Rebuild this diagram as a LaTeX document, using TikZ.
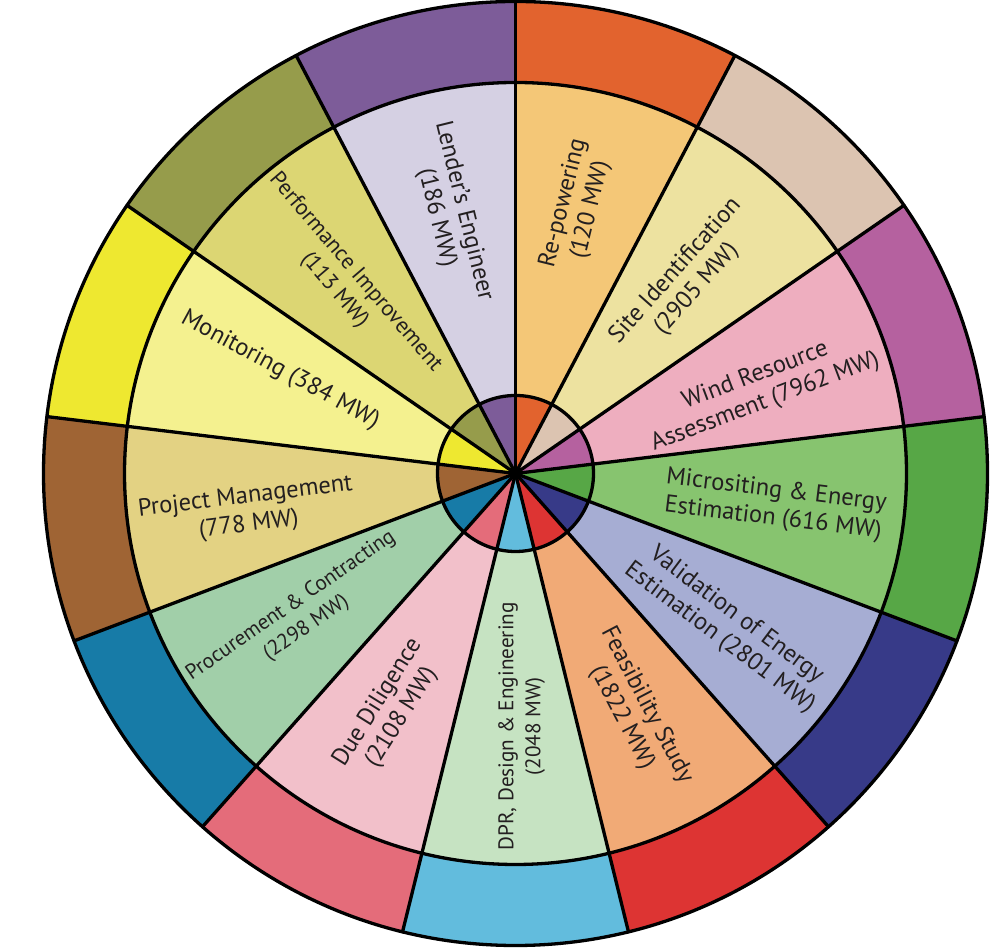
\documentclass[tikz,border=0pt]{standalone}
\usepackage{fontspec}
\setmainfont{PT Sans}
\usetikzlibrary{calc}
\begin{document}
\begin{tikzpicture}[x=1pt,y=1pt,
  lab/.style={text=txt, align=center, inner sep=0pt, font=\fontsize{24.5}{28}\selectfont},
  labm/.style={lab, font=\fontsize{22.4}{27.5}\selectfont},
  labs/.style={lab, font=\fontsize{21.2}{27}\selectfont},
  ring/.style={draw=black, line width=3.3pt}]
\definecolor{txt}{HTML}{231F20}
\useasboundingbox (0,0) rectangle (990,949);
\coordinate (C) at (515.5,475.5);
\foreach \i/\co/\cmid in {0/E2632E/F4C777, 1/DCC4B1/EDE2A0, 2/B5619F/EEAEBF, 3/57A746/87C46F,
  4/373A88/A6ADD3, 5/DD3433/F1AA76, 6/62BCDD/C6E3C2, 7/E46C7A/F2C0CA, 8/177BA7/A1CFA9,
  9/9F6434/E3D283, 10/EEE830/F4F18F, 11/969C4B/DCD673, 12/7D5C99/D5D0E3}{
  \pgfmathsetmacro\aa{90-\i*360/13}
  \pgfmathsetmacro\ab{90-(\i+1)*360/13}
  \definecolor{segout}{HTML}{\co}
  \definecolor{segmid}{HTML}{\cmid}
  \fill[segout] (C) -- ([shift={(\aa:472)}]C) arc[start angle=\aa, end angle=\ab, radius=472] -- cycle;
  \fill[segmid] (C) -- ([shift={(\aa:391)}]C) arc[start angle=\aa, end angle=\ab, radius=391] -- cycle;
  \fill[segout] (C) -- ([shift={(\aa:78)}]C) arc[start angle=\aa, end angle=\ab, radius=78] -- cycle;
}
\foreach \i in {0,...,12}{
  \pgfmathsetmacro\aa{90-\i*360/13}
  \draw[ring, line cap=round] (C) -- ([shift={(\aa:472)}]C);
}
\draw[ring] (C) circle[radius=472];
\draw[ring] (C) circle[radius=391];
\draw[ring] (C) circle[radius=78];
\fill[black] (C) circle[radius=4];
\node[lab, rotate=76.2]   (l0)  at ([shift={(77.0:274)}]C)  {Re-powering\\(120 MW)};
\node[lab, rotate=48.5]   (l1)  at ([shift={(48.6:258)}]C)  {Site Identification\\(2905 MW)};
\node[lab, rotate=20.8]   (l2)  at ([shift={(19.0:259)}]C)  {Wind Resource\\Assessment (7962 MW)};
\node[lab, rotate=-6.9]   (l3)  at ([shift={(-6.9:261)}]C)  {Micrositing \& Energy\\Estimation (616 MW)};
\node[lab, rotate=-37]    (l4)  at ([shift={(-35.8:262)}]C) {Validation of Energy\\Estimation (2801 MW)};
\node[lab, rotate=-62.3]  (l5)  at ([shift={(-63.5:266)}]C) {Feasibility Study\\(1822 MW)};
\node[labs, rotate=90]    (l6)  at ([shift={(-88.6:253)}]C) {DPR, Design \& Engineering\\(2048 MW)};
\node[lab, rotate=58]     (l7)  at ([shift={(242.0:268)}]C) {Due Diligence\\(2108 MW)};
\node[labs, rotate=34.6]  (l8)  at ([shift={(213.5:260)}]C) {Procurement \& Contracting\\(2298 MW)};
\node[lab, rotate=6.9]    (l9)  at ([shift={(188.0:271)}]C) {Project Management\\(778 MW)};
\node[lab, rotate=-28.5]  (l10) at ([shift={(156.3:257)}]C) {Monitoring (384 MW)};
\node[labm, rotate=-49.5] (l11) at ([shift={(131.6:257)}]C) {Performance Improvement\\(113 MW)};
\node[lab, rotate=-76.2]  (l12) at ([shift={(104.2:267)}]C) {Lender’s Engineer\\(186 MW)};
\end{tikzpicture}
\end{document}
